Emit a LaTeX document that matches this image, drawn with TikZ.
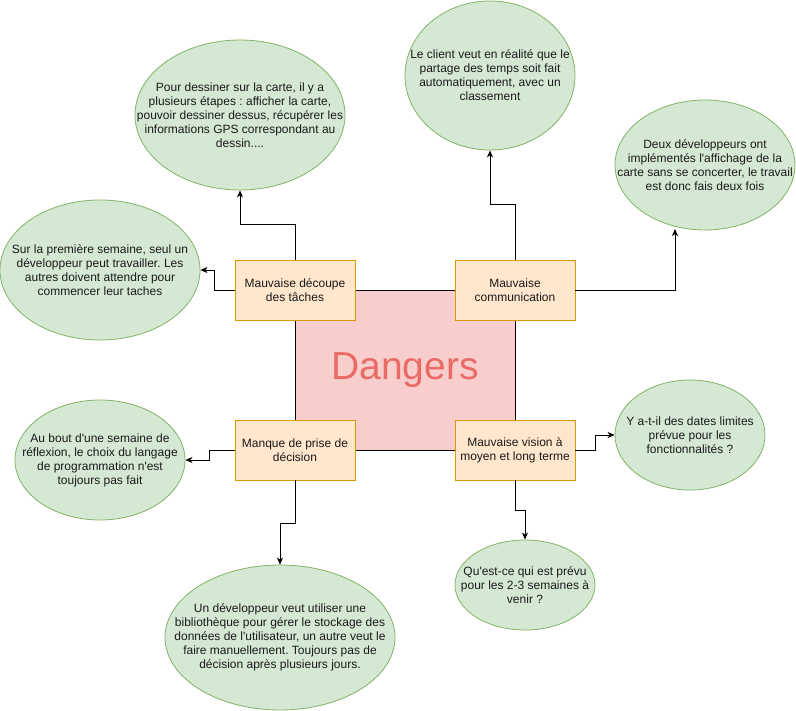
\documentclass[tikz,border=0pt]{standalone}
\usepackage{fontspec}
\setmainfont{Liberation Sans}[Ligatures=TeXOff]
\usetikzlibrary{shapes.geometric,arrows.meta}
\definecolor{egreen}{HTML}{D5E8D4}
\definecolor{egreenb}{HTML}{82B366}
\definecolor{borange}{HTML}{FFE6CC}
\definecolor{borangeb}{HTML}{D79B00}
\definecolor{spink}{HTML}{F8CECC}
\definecolor{dred}{HTML}{EA6B66}
\definecolor{txt}{HTML}{1A1A1A}
\frenchspacing
\tikzset{
  bubble/.style={ellipse, draw=egreenb, fill=egreen, line width=0.8pt, inner sep=0pt},
  btext/.style={align=center, text=txt, font=\frenchspacing\fontsize{12}{14}\selectfont, inner sep=0pt},
  riskbox/.style={rectangle, draw=borangeb, fill=borange, line width=0.8pt, minimum width=120pt, minimum height=60pt, inner sep=0pt, align=center, text=txt, font=\frenchspacing\fontsize{12}{14}\selectfont},
  conn/.style={draw=black, line width=0.9pt, -{Stealth[length=7pt,width=6pt,inset=2pt]}},
}
\begin{document}
\begin{tikzpicture}[x=1pt,y=-1pt]
\useasboundingbox (0,0) rectangle (796,711);
% central square
\node[rectangle, draw=black, fill=spink, line width=0.8pt, minimum width=220pt, minimum height=160pt, inner sep=0pt, text=dred, font=\fontsize{39}{44}\selectfont] (dangers) at (405,370) {Dangers};
% boxes
\node[riskbox] (dec) at (295,290) {Mauvaise découpe\\des tâches};
\node[riskbox] (com) at (515,290) {Mauvaise\\communication};
\node[riskbox] (mpd) at (295,450) {Manque de prise de\\décision};
\node[riskbox] (vis) at (515,450) {Mauvaise vision à\\moyen et long terme};
% ellipses
\node[bubble, minimum width=210pt, minimum height=150pt, label={[btext]center:{Pour dessiner sur la carte, il y a\\plusieurs étapes : afficher la carte,\\pouvoir dessiner dessus, récupérer les\\informations GPS correspondant au\\dessin....}}] (e1) at (240,115) {};
\node[bubble, minimum width=170pt, minimum height=149pt, label={[btext]center:{Le client veut en réalité que le\\partage des temps soit fait\\automatiquement, avec un\\classement}}] (e2) at (490,75.5) {};
\node[bubble, minimum width=180pt, minimum height=130pt, label={[btext]center:{Deux développeurs ont\\implémentés l'affichage de la\\carte sans se concerter, le travail\\est donc fais deux fois}}] (e3) at (705,165) {};
\node[bubble, minimum width=200pt, minimum height=140pt, label={[btext]center:{Sur la première semaine, seul un\\développeur peut travailler. Les\\autres doivent attendre pour\\commencer leur taches}}] (e4) at (100,270) {};
\node[bubble, minimum width=170pt, minimum height=120pt, label={[btext]center:{Au bout d'une semaine de\\réflexion, le choix du langage\\de programmation n'est\\toujours pas fait}}] (e5) at (100,460) {};
\node[bubble, minimum width=150pt, minimum height=110pt, label={[btext]center:{Y a-t-il des dates limites\\prévue pour les\\fonctionnalités ?}}] (e6) at (690,435) {};
\node[bubble, minimum width=140pt, minimum height=90pt, label={[btext]center:{Qu'est-ce qui est prévu\\pour les 2-3 semaines à\\venir ?}}] (e7) at (525,585) {};
\node[bubble, minimum width=230pt, minimum height=145pt, label={[btext]center:{Un développeur veut utiliser une\\bibliothèque pour gérer le stockage des\\données de l'utilisateur, un autre veut le\\faire manuellement. Toujours pas de\\décision après plusieurs jours.}}] (e8) at (280,637.5) {};
\coordinate (e3a) at (675,229);
% connectors
\draw[conn] (dec.north) -- ++(0,-35) -| (e1.south);
\draw[conn] (dec.west) -- ++(-20,0) |- (e4.east);
\draw[conn] (com.north) -- ++(0,-55) -| (e2.south);
\draw[conn] (com.east) -| (e3a);
\draw[conn] (mpd.west) -- ++(-25,0) |- (e5.east);
\draw[conn] (mpd.south) -- ++(0,43) -| (e8.north);
\draw[conn] (vis.east) -- ++(20,0) |- (e6.west);
\draw[conn] (vis.south) -- ++(0,30) -| (e7.north);
\end{tikzpicture}
\end{document}
